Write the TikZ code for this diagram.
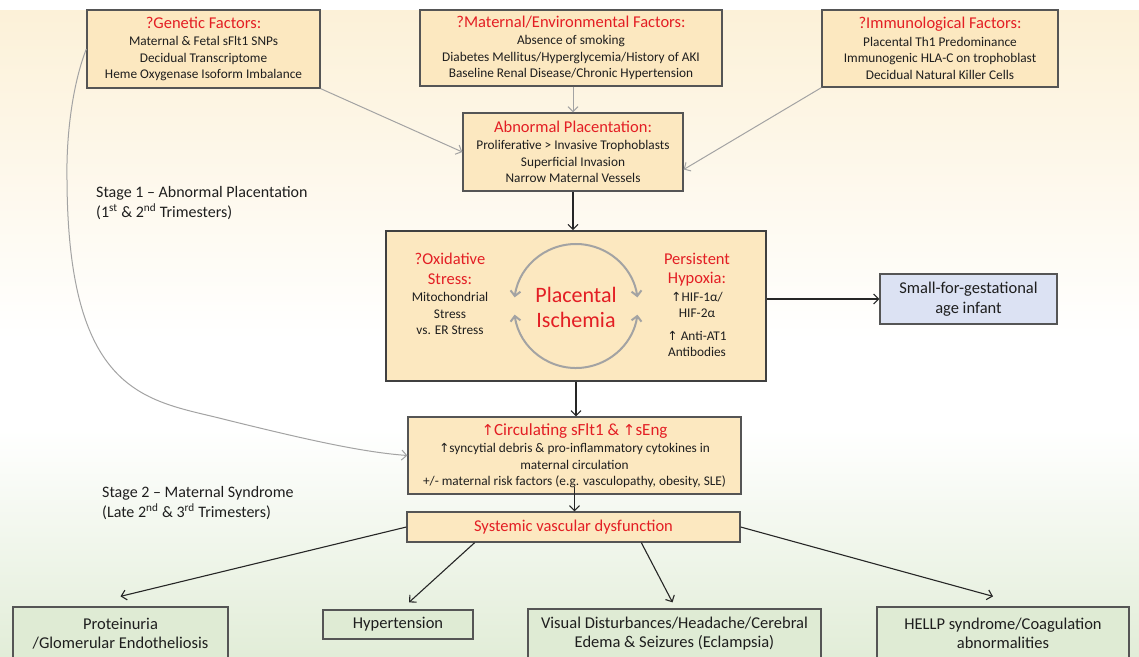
\documentclass[tikz,border=0pt]{standalone}
\usepackage{fontspec}
\setmainfont{Carlito}
\newfontfamily\arrowfont{DejaVu Sans}
\usepackage{xcolor}
\usetikzlibrary{arrows.meta, positioning}

\definecolor{boxfill}{HTML}{FCE8C0}
\definecolor{boxline}{HTML}{555555}
\definecolor{hdred}{HTML}{E31E24}
\definecolor{outfill}{HTML}{DFEBD4}
\definecolor{sgafill}{HTML}{DCE2F3}
\definecolor{bgcream}{HTML}{FCF1D8}
\definecolor{bggreen}{HTML}{E2EDD8}
\definecolor{linkgray}{HTML}{A3A3A3}
\definecolor{txt}{HTML}{1E1E1E}

\newcommand{\uparr}{{\arrowfont\fontsize{12.5}{12.5}\selectfont ↑}}
\newcommand{\hd}[1]{{\color{hdred}\fontsize{16.5}{20}\selectfont #1}}

\begin{document}
\begin{tikzpicture}[x=1pt, y=-1pt,
    factor/.style={draw=boxline, line width=1.3pt, fill=boxfill, align=center,
                   inner sep=0pt, text=txt, font=\fontsize{13.3}{16.5}\selectfont},
    outcome/.style={factor, fill=outfill, font=\fontsize{16.5}{19}\selectfont},
    plain/.style={align=center, inner sep=0pt, text=txt, font=\fontsize{13.3}{16.5}\selectfont},
    arr/.style={-{Straight Barb[length=5pt,width=10pt]}, line width=1.1pt, black!85},
    garr/.style={arr, linkgray, line width=1pt},
    cycle arr/.style={{Straight Barb[length=5pt,width=10pt]}-{Straight Barb[length=5pt,width=10pt]},
                      linkgray, line width=2pt},
    stagetxt/.style={anchor=west, align=left, inner sep=0pt, text=txt,
                     font=\fontsize{16}{20}\selectfont}
]
% background
\useasboundingbox (0,0) rectangle (1139,656);
\fill[white] (0,0) rectangle (1139,656);
\shade[top color=bgcream, bottom color=white] (0,10) rectangle (1139,340);
\shade[top color=white, bottom color=bggreen] (0,430) rectangle (1139,656);

% risk factors
\node[factor, minimum width=233pt, minimum height=78pt] (gen) at (203.5,49)
  {\hd{?Genetic Factors:}\\[1pt] Maternal \& Fetal sFlt1 SNPs\\ Decidual Transcriptome\\ Heme Oxygenase Isoform Imbalance};
\node[factor, minimum width=302pt, minimum height=76pt] (mat) at (571,48)
  {\hd{?Maternal/Environmental Factors:}\\[1pt] Absence of smoking\\ Diabetes Mellitus/Hyperglycemia/History of AKI\\ Baseline Renal Disease/Chronic Hypertension};
\node[factor, minimum width=236pt, minimum height=77pt] (imm) at (940,48.5)
  {\hd{?Immunological Factors:}\\[1pt] Placental Th1 Predominance\\ Immunogenic HLA-C on trophoblast\\ Decidual Natural Killer Cells};
\node[factor, minimum width=220pt, minimum height=78pt] (abn) at (573,152)
  {\hd{Abnormal Placentation:}\\[1pt] Proliferative > Invasive Trophoblasts\\ Superficial Invasion\\ Narrow Maternal Vessels};

% ischemia
\node[factor, minimum width=380pt, minimum height=150pt, line width=1.6pt, draw=black!75] (isch) at (576,306) {};
\node[plain] (oxi) at (450,294)
  {\hd{?Oxidative}\\[3pt] \hd{Stress:}\\[1pt] Mitochondrial\\ Stress\\ vs. ER Stress};
\node[plain] (hypox) at (697,305)
  {\hd{Persistent}\\[3pt] \hd{Hypoxia:}\\[1pt] \uparr HIF-1α/\\ HIF-2α\\[6pt] \uparr\ Anti-AT1\\ Antibodies};
\node[plain, text=hdred, font=\fontsize{22}{25}\selectfont] (plac) at (576,307) {Placental\\Ischemia};
\draw[cycle arr] ([shift={(172:62pt)}]isch.center) arc[start angle=172, end angle=8, radius=62pt];
\draw[cycle arr] ([shift={(188:62pt)}]isch.center) arc[start angle=188, end angle=352, radius=62pt];

\node[factor, fill=sgafill, font=\fontsize{16.5}{20}\selectfont, minimum width=177pt, minimum height=50pt] (sga) at (968.5,299)
  {Small-for-gestational\\age infant};

% maternal syndrome
\node[factor, minimum width=333pt, minimum height=77pt] (circ) at (574.5,455.5)
  {{\color{hdred}\fontsize{17}{20}\selectfont{\arrowfont\fontsize{15}{15}\selectfont ↑}Circulating sFlt1 \& {\arrowfont\fontsize{15}{15}\selectfont ↑}sEng}\\[1pt]
   \uparr syncytial debris \& pro-inflammatory cytokines in\\ maternal circulation\\
   +/- maternal risk factors (e.g. vasculopathy, obesity, SLE)};
\node[factor, minimum width=333pt, minimum height=30pt, text=hdred, font=\fontsize{16.5}{20}\selectfont] (sys) at (573.5,527)
  {Systemic vascular dysfunction};

\node[outcome, minimum width=215pt, minimum height=53pt] (prot) at (120.5,633.5) {Proteinuria\\/Glomerular Endotheliosis};
\node[outcome, minimum width=150pt, minimum height=29pt] (htn) at (398,624.5) {Hypertension};
\node[outcome, minimum width=293pt, minimum height=50pt] (vis) at (674.5,634) {Visual Disturbances/Headache/Cerebral\\Edema \& Seizures (Eclampsia)};
\node[outcome, minimum width=252pt, minimum height=52pt] (hellp) at (1003,633) {HELLP syndrome/Coagulation\\abnormalities};

% stages
\node[stagetxt] (st1) at (96,203) {Stage 1 – Abnormal Placentation\\(1\textsuperscript{st} \& 2\textsuperscript{nd} Trimesters)};
\node[stagetxt] (st2) at (102,503) {Stage 2 – Maternal Syndrome\\(Late 2\textsuperscript{nd} \& 3\textsuperscript{rd} Trimesters)};

% connectors
\draw[garr] (gen.south east) -- (abn.west);
\draw[garr] (abn.north |- mat.south) -- (abn.north);
\draw[garr] (imm.south west) -- (abn.-9);
\draw[arr] (abn.south) -- (abn.south |- isch.north);
\draw[arr] (isch.east |- sga.west) -- (sga.west);
\draw[arr] (isch.south) -- (isch.south |- circ.north);
\draw[arr] ([yshift=8pt]circ.south) -- (circ.south |- sys.north);
\draw[garr] (gen.west) .. controls (74,80) and (66,130) .. (67,180)
   .. controls (68,400) and (150,400) .. (227,420)
   .. controls (300,438) and (360,452) .. (circ.west);

\draw[arr] (sys.west) -- ([yshift=10pt]prot.north);
\draw[arr] (sys.189) -- ([xshift=11pt,yshift=7pt]htn.north);
\draw[arr] (sys.-13) -- ([xshift=-2pt,yshift=6pt]vis.north);
\draw[arr] (sys.east) -- ([xshift=-10pt,yshift=10pt]hellp.north);
\end{tikzpicture}
\end{document}
